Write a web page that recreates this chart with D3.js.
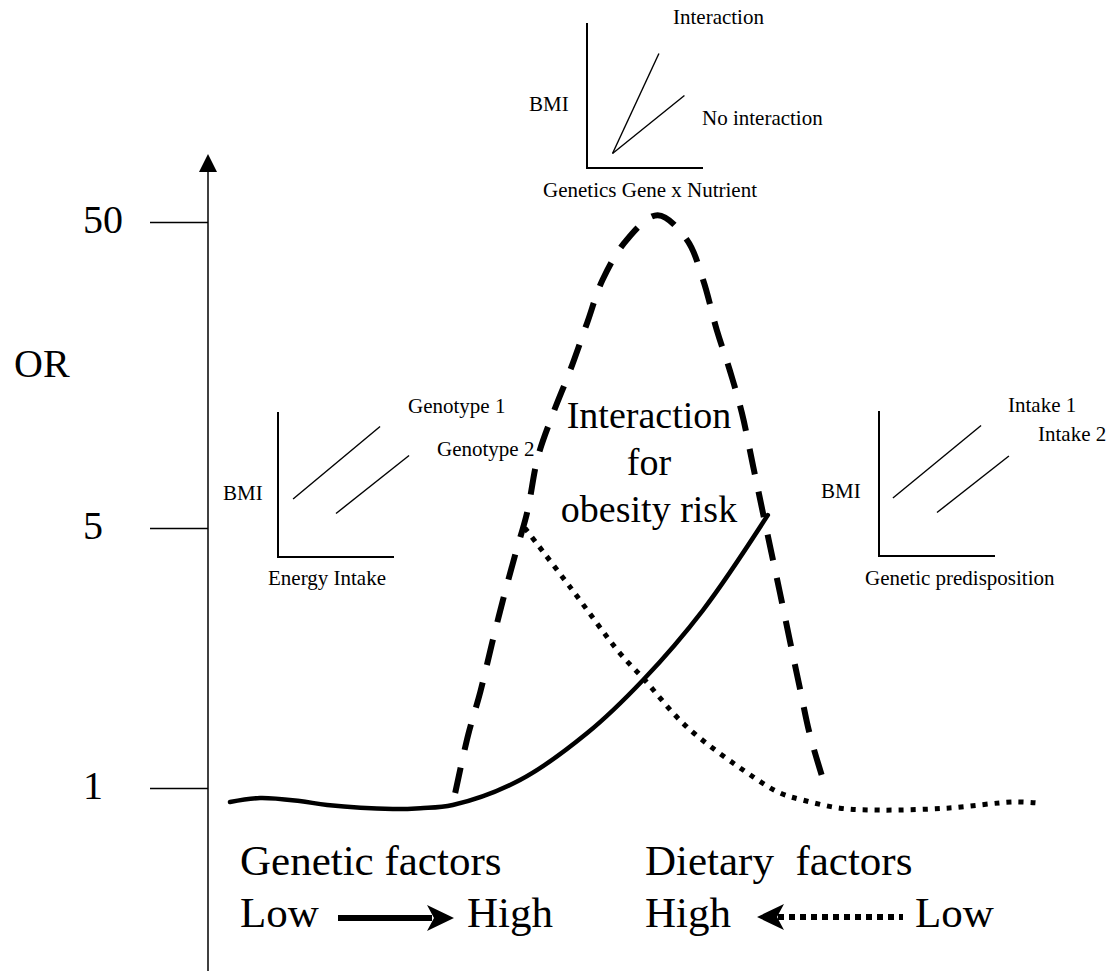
<!DOCTYPE html>
<html><head><meta charset="utf-8">
<script src="https://cdn.jsdelivr.net/npm/d3@7"></script>
<style>
body{margin:0;background:#fff}
svg{display:block}
text{font-family:"Liberation Serif","Times New Roman",serif;fill:#000}
</style>
</head><body>
<svg id="c" width="1110" height="971"></svg>
<script>
// ---------- data ----------
const orTicks = [1, 5, 50];
const orTickLabels = ["1", "5", "50"];

// factor level (0-100) vs odds ratio
const geneticLevel = [0, 3.7, 8.6, 12, 20.1, 23.5, 27.5, 35.8, 44.1, 51, 58.4, 66.4];
const geneticOR    = [0.785, 0.846, 0.80, 0.738, 0.677, 0.69, 0.738, 1.123, 1.846, 2.662, 3.738, 6.9];

const interactionLevel = [27.8, 29.4, 30.9, 32.3, 33.7, 35.2, 36.7, 38.0, 39.9, 42.0, 44.1, 46.0, 49.0, 52.8,
                          56.4, 58.4, 60.1, 61.7, 63.2, 64.6, 65.8, 67.9, 69.1, 70.4, 71.6, 73.7];
const interactionOR    = [0.923, 1.815, 2.477, 3.2, 3.892, 4.585, 7.35, 15.4, 21.9, 28.2, 35.2, 41.5, 47.4, 51.0,
                          47.4, 41.5, 34.1, 28.2, 21.9, 14.0, 7.2, 4.0, 3.28, 2.51, 1.815, 0.94];

const dietaryLevel = [36.4, 42.0, 48.1, 51.0, 56.4, 64.6, 67.9, 70.7, 75.3, 80.2, 88.5, 96.7, 99.6];
const dietaryOR    = [5.0, 4.09, 3.08, 2.69, 1.94, 1.17, 0.923, 0.815, 0.69, 0.66, 0.69, 0.785, 0.77];

const centreLabel = ["Interaction", "for", "obesity risk"];
const factorTitles = ["Genetic factors", "Dietary  factors"];

// insets (units 0-10 on both axes)
const insetLeftLines  = [{name:"Genotype 1", x:[1.3, 8.8], y:[4.0, 9.0]}, {name:"Genotype 2", x:[5.0, 11.3], y:[3.0, 7.0]}];
const insetRightLines = [{name:"Intake 1", x:[1.2, 8.8], y:[4.0, 9.0]}, {name:"Intake 2", x:[5.0, 11.2], y:[3.0, 6.9]}];
const insetTopLines   = [{name:"Interaction", x:[2.2, 6.2], y:[1.0, 7.9]}, {name:"No interaction", x:[2.2, 8.4], y:[1.0, 5.0]}];

// ---------- drawing ----------
const svg = d3.select("#c");
svg.append("rect").attr("width",1110).attr("height",971).attr("fill","#fff");

const x = d3.scaleLinear().domain([0, 100]).range([230, 1040]);
const y = d3.scaleLinear().domain([1, 5, 50]).range([788, 528, 222]);

const axisX = 208;

// y axis with ticks
const yAxis = d3.axisLeft(y).tickValues(orTicks).tickFormat((d,i)=>orTickLabels[i]).tickSize(58).tickPadding(0);
const gAxis = svg.append("g").attr("transform",`translate(${axisX},0)`).call(yAxis);
gAxis.select(".domain").remove();
gAxis.selectAll(".tick line").attr("stroke","#000").attr("stroke-width",1.4);
gAxis.selectAll(".tick text")
  .attr("x",-125).attr("text-anchor","start").attr("dy","0.25em")
  .style("font-family",'"Liberation Serif","Times New Roman",serif')
  .style("font-size","40px").attr("fill","#000");

// axis line + arrow head
svg.append("line").attr("x1",axisX).attr("x2",axisX).attr("y1",170).attr("y2",971)
  .attr("stroke","#000").attr("stroke-width",1.5);
svg.append("path").attr("d",`M${axisX},154 L${axisX-9},172 L${axisX+9},172 Z`).attr("fill","#000");

svg.append("text").attr("x",14).attr("y",377).style("font-size","40px").text("OR");

// curves
const line = d3.line().x(d=>x(d[0])).y(d=>y(d[1])).curve(d3.curveCatmullRom.alpha(0.5));
const zip = (a,b)=>a.map((v,i)=>[v,b[i]]);

svg.append("path").attr("d", line(zip(interactionLevel, interactionOR)))
  .attr("fill","none").attr("stroke","#000").attr("stroke-width",6).attr("stroke-dasharray","26,18");
svg.append("path").attr("d", line(zip(dietaryLevel, dietaryOR)))
  .attr("fill","none").attr("stroke","#000").attr("stroke-width",5).attr("stroke-dasharray","5,7");
svg.append("path").attr("d", line(zip(geneticLevel, geneticOR)))
  .attr("fill","none").attr("stroke","#000").attr("stroke-width",4.5).attr("stroke-linecap","round");

// centre label
svg.append("g").selectAll("text").data(centreLabel).join("text")
  .attr("x",649).attr("y",(d,i)=>428+i*47).attr("text-anchor","middle")
  .style("font-size","38px").text(d=>d);

// bottom labels
svg.append("text").attr("x",240).attr("y",875).style("font-size","43px").text(factorTitles[0]);
svg.append("text").attr("x",645).attr("y",875).style("font-size","43px").style("white-space","pre").text(factorTitles[1]);
svg.append("text").attr("x",240).attr("y",927).style("font-size","43px").text("Low");
svg.append("text").attr("x",467).attr("y",927).style("font-size","43px").text("High");
svg.append("text").attr("x",645).attr("y",927).style("font-size","43px").text("High");
svg.append("text").attr("x",915).attr("y",927).style("font-size","43px").text("Low");

// arrows
svg.append("line").attr("x1",338).attr("x2",432).attr("y1",918).attr("y2",918).attr("stroke","#000").attr("stroke-width",6);
svg.append("path").attr("d","M454,918 L427,905 L434,918 L427,931 Z").attr("fill","#000");
svg.append("line").attr("x1",778).attr("x2",903).attr("y1",917).attr("y2",917).attr("stroke","#000").attr("stroke-width",6).attr("stroke-dasharray","6,5");
svg.append("path").attr("d","M757,917 L784,904 L777,917 L784,930 Z").attr("fill","#000");

// insets
function inset(ox, oy, lines, labels){
  const sx = d3.scaleLinear().domain([0,10]).range([ox, ox+116]);
  const sy = d3.scaleLinear().domain([0,10]).range([oy, oy-145]);
  const g = svg.append("g");
  g.append("path").attr("d",`M${sx(0)},${sy(10)} L${sx(0)},${sy(0)} L${sx(10)},${sy(0)}`)
    .attr("fill","none").attr("stroke","#000").attr("stroke-width",2);
  g.selectAll("line.l").data(lines).join("line")
    .attr("x1",d=>sx(d.x[0])).attr("x2",d=>sx(d.x[1]))
    .attr("y1",d=>sy(d.y[0])).attr("y2",d=>sy(d.y[1]))
    .attr("stroke","#000").attr("stroke-width",1.4);
  g.selectAll("text").data(labels).join("text")
    .attr("x",d=>d.x).attr("y",d=>d.y).style("font-size","21px").text(d=>d.t);
}
inset(278, 557, insetLeftLines, [
  {t:"Genotype 1", x:408, y:413}, {t:"Genotype 2", x:437, y:456},
  {t:"BMI", x:223, y:500}, {t:"Energy Intake", x:268, y:585}]);
inset(879, 556, insetRightLines, [
  {t:"Intake 1", x:1008, y:412}, {t:"Intake 2", x:1038, y:441},
  {t:"BMI", x:821, y:498}, {t:"Genetic predisposition", x:865, y:585}]);
inset(587, 168, insetTopLines, [
  {t:"Interaction", x:673, y:24}, {t:"No interaction", x:702, y:125},
  {t:"BMI", x:529, y:111}, {t:"Genetics Gene x Nutrient", x:543, y:197}]);
</script>
</body></html>
